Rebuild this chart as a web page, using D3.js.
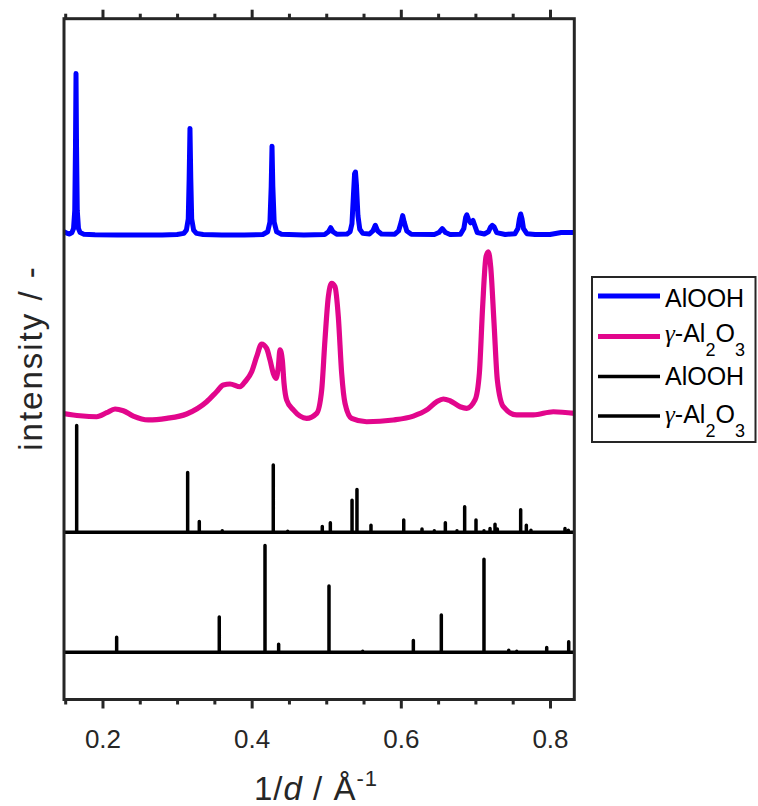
<!DOCTYPE html>
<html>
<head>
<meta charset="utf-8">
<script src="https://cdn.jsdelivr.net/npm/d3@7"></script>
<style>
  body { margin: 0; background: #fff; }
  text { font-family: "Liberation Sans", Arial, sans-serif; }
</style>
</head>
<body>
<svg id="chart" width="758" height="806"></svg>
<script>
// x range of the diffractograms, 1/d in Å^-1
const xDomain = [0.1484, 0.8326];
const xMajorTicks = [0.2, 0.4, 0.6, 0.8];
const xMinorTicks = [0.15, 0.25, 0.3, 0.35, 0.45, 0.5, 0.55, 0.65, 0.7, 0.75];

// Measured AlOOH pattern: [1/d, relative intensity %]
const aloohMeasured = [
  [0.1484, 2.0], [0.152, 1.2], [0.156, 0.6], [0.159, 1.5], [0.1612, 4], [0.1628, 15],
  [0.1638, 55], [0.1645, 100], [0.1652, 55], [0.1662, 15], [0.1678, 4], [0.1700, 1.5],
  [0.175, 0.5], [0.19, 0.2], [0.22, 0], [0.25, 0], [0.28, 0], [0.30, 0.3],
  [0.309, 1], [0.3125, 3], [0.3150, 10], [0.3162, 35], [0.3173, 66], [0.3184, 35],
  [0.3196, 10], [0.3222, 3], [0.326, 1], [0.335, 0.3], [0.36, 0], [0.39, 0],
  [0.415, 0.3], [0.4215, 2], [0.4245, 8], [0.4262, 30], [0.4273, 55], [0.4284, 30],
  [0.4302, 8], [0.4335, 2], [0.44, 0.5], [0.47, 0], [0.498, 0.3], [0.503, 2],
  [0.506, 4.5], [0.509, 2], [0.514, 0.5], [0.528, 0.6], [0.532, 2], [0.5345, 7],
  [0.5365, 25], [0.5380, 38], [0.5392, 39], [0.5405, 31], [0.5425, 12], [0.5450, 3.5],
  [0.549, 1], [0.558, 0.6], [0.5625, 2.5], [0.5658, 6], [0.569, 2.5], [0.574, 0.6],
  [0.592, 0.5], [0.597, 2.5], [0.6005, 8], [0.6025, 12], [0.6045, 8], [0.608, 2.5],
  [0.614, 0.5], [0.645, 0.3], [0.651, 1.5], [0.6556, 4], [0.660, 1.5], [0.666, 0.3],
  [0.680, 0.5], [0.6845, 4], [0.6870, 11], [0.6885, 12.5], [0.6905, 10], [0.6935, 7.5],
  [0.6968, 9], [0.6990, 6], [0.7025, 1.5], [0.712, 0.6], [0.7175, 2], [0.7205, 5],
  [0.7227, 6], [0.7252, 5], [0.7285, 1.5], [0.74, 0.3], [0.753, 0.8], [0.757, 4],
  [0.7590, 10], [0.7607, 13], [0.7625, 10], [0.7645, 4], [0.769, 0.8], [0.78, 0.3],
  [0.80, 0.3], [0.815, 1.5], [0.8326, 1.5]
];

// Measured γ-Al2O3 pattern: [1/d, relative intensity %]
const gammaMeasured = [
  [0.1466, -0.2], [0.1698, -1.7], [0.1922, -2.3], [0.2056, 0.2], [0.2168, 2.5], [0.2279, 1.4],
  [0.2413, -1.9], [0.2615, -4.3], [0.2860, -3.3], [0.3128, -0.6], [0.3397, 7.0], [0.3530, 13.2],
  [0.3620, 17.4], [0.3710, 18.0], [0.3844, 16.3], [0.3911, 19.4], [0.4000, 25.6], [0.4067, 34.9],
  [0.4134, 42.8], [0.4201, 40.1], [0.4246, 32.9], [0.4290, 24.6], [0.4326, 21.5], [0.4358, 28.7],
  [0.4380, 39.1], [0.4411, 32.9], [0.4434, 18.4], [0.4469, 8.1], [0.4559, 1.9], [0.4737, -3.3],
  [0.4872, -0.2], [0.4939, 14.3], [0.4983, 45.3], [0.5028, 72.1], [0.5073, 80.4], [0.5117, 78.3],
  [0.5162, 59.7], [0.5207, 24.6], [0.5252, 6.0], [0.5341, -3.3], [0.5542, -5.4], [0.5900, -4.3],
  [0.6168, -1.9], [0.6347, 1.9], [0.6481, 7.0], [0.6570, 8.7], [0.6659, 7.6], [0.6794, 3.9],
  [0.6883, 2.9], [0.6995, 8.1], [0.7053, 24.6], [0.7097, 65.9], [0.7142, 96.9], [0.7173, 100],
  [0.7205, 90.7], [0.7250, 55.6], [0.7294, 20.5], [0.7375, 3.9], [0.7553, -1.2], [0.7777, -1.2],
  [0.8045, 0.8], [0.8336, -0.2]
];

// Reference line positions and relative intensities, AlOOH (boehmite)
const aloohRefPos = [0.1654, 0.3142, 0.3298, 0.3606, 0.4290, 0.4483, 0.4947, 0.5055, 0.5346,
  0.5412, 0.5600, 0.6039, 0.6284, 0.6449, 0.6597, 0.6753, 0.6856, 0.7008, 0.7115, 0.7196,
  0.7263, 0.7294, 0.7607, 0.7683, 0.7745, 0.8201, 0.8246];
const aloohRefInt = [100, 56, 10, 1.5, 63, 1, 5.5, 9, 30, 40, 6.5, 11.5, 3, 1.5, 9, 1.5, 24,
  11.5, 1.5, 3.5, 7.5, 3, 21, 6.5, 2, 3.5, 2];

// Reference line positions and relative intensities, γ-Al2O3
const gammaRefPos = [0.2190, 0.3566, 0.4179, 0.4362, 0.5037, 0.5489, 0.6168, 0.6543, 0.7115,
  0.7447, 0.7554, 0.7956, 0.8251];
const gammaRefInt = [14, 33, 100, 7.5, 62, 1, 11, 35, 87, 2, 1, 4.5, 10];

const colors = { blue: "#0000ff", pink: "#e2068c", black: "#000000", axis: "#262626" };

// Stack offsets (base) and heights (span) for each trace, in y-scale units
const stack = {
  aloohMeasured: { base: 68.23, span: 23.72 },
  gammaMeasured: { base: 42.08, span: 23.69 },
  aloohRef: { base: 24.56, span: 15.7 },
  gammaRef: { base: 6.93, span: 15.7 }
};

const svg = d3.select("#chart");
const plot = { left: 64, right: 574.3, top: 18.7, bottom: 699.5 };

svg.append("rect").attr("width", 758).attr("height", 806).attr("fill", "#fff");

const x = d3.scaleLinear().domain(xDomain).range([plot.left, plot.right]);
const y = d3.scaleLinear().domain([0, 100]).range([plot.bottom, plot.top]);

svg.append("defs").append("clipPath").attr("id", "plotClip")
  .append("rect")
  .attr("x", plot.left).attr("y", plot.top)
  .attr("width", plot.right - plot.left).attr("height", plot.bottom - plot.top);

const g = svg.append("g").attr("clip-path", "url(#plotClip)");

// Reference patterns drawn as one polyline: baseline with vertical sticks
function stickPoints(pos, inten) {
  const pts = [[xDomain[0], 0]];
  pos.forEach((p, i) => { pts.push([p, 0], [p, inten[i]], [p, 0]); });
  pts.push([xDomain[1], 0]);
  return pts;
}

function lineFor(s) {
  return d3.line()
    .x(d => x(d[0]))
    .y(d => y(s.base + d[1] / 100 * s.span));
}

g.append("path")
  .attr("d", lineFor(stack.gammaRef)(stickPoints(gammaRefPos, gammaRefInt)))
  .attr("fill", "none").attr("stroke", colors.black).attr("stroke-width", 3.5)
  .attr("stroke-linejoin", "round").attr("stroke-linecap", "round");

g.append("path")
  .attr("d", lineFor(stack.aloohRef)(stickPoints(aloohRefPos, aloohRefInt)))
  .attr("fill", "none").attr("stroke", colors.black).attr("stroke-width", 3.5)
  .attr("stroke-linejoin", "round").attr("stroke-linecap", "round");

g.append("path")
  .attr("d", lineFor(stack.gammaMeasured).curve(d3.curveMonotoneX)(gammaMeasured))
  .attr("fill", "none").attr("stroke", colors.pink).attr("stroke-width", 5.2)
  .attr("stroke-linejoin", "round").attr("stroke-linecap", "round");

g.append("path")
  .attr("d", lineFor(stack.aloohMeasured)(aloohMeasured))
  .attr("fill", "none").attr("stroke", colors.blue).attr("stroke-width", 5)
  .attr("stroke-linejoin", "round").attr("stroke-linecap", "round");

// Axes: major and minor ticks, outward on bottom and top
function styleAxis(sel) {
  sel.select(".domain").remove();
  sel.selectAll(".tick line").attr("stroke", colors.axis).attr("stroke-width", 3);
  sel.selectAll(".tick text").attr("fill", colors.axis)
    .style("font-family", '"Liberation Sans", Arial, sans-serif').style("font-size", "26px");
}

svg.append("g").attr("transform", `translate(0,${plot.bottom})`)
  .call(d3.axisBottom(x).tickValues(xMajorTicks).tickSize(9).tickPadding(21)
    .tickFormat(d3.format(".1f")))
  .call(styleAxis);
svg.append("g").attr("transform", `translate(0,${plot.bottom})`)
  .call(d3.axisBottom(x).tickValues(xMinorTicks).tickSize(5).tickFormat(""))
  .call(styleAxis);
svg.append("g").attr("transform", `translate(0,${plot.top})`)
  .call(d3.axisTop(x).tickValues(xMajorTicks).tickSize(9).tickFormat(""))
  .call(styleAxis);
svg.append("g").attr("transform", `translate(0,${plot.top})`)
  .call(d3.axisTop(x).tickValues(xMinorTicks).tickSize(5).tickFormat(""))
  .call(styleAxis);

// Frame
svg.append("rect")
  .attr("x", plot.left).attr("y", plot.top)
  .attr("width", plot.right - plot.left).attr("height", plot.bottom - plot.top)
  .attr("fill", "none").attr("stroke", colors.axis).attr("stroke-width", 3);

// Axis titles
const xt = svg.append("text")
  .attr("x", 316).attr("y", 800).attr("text-anchor", "middle")
  .attr("fill", colors.axis).style("font-size", "33px").style("letter-spacing", "1px");
xt.append("tspan").text("1/");
xt.append("tspan").style("font-style", "italic").text("d");
xt.append("tspan").text(" / Å");
xt.append("tspan").attr("dy", -14).style("font-size", "22px").text("-1");

svg.append("text")
  .attr("transform", "translate(42,358) rotate(-90)")
  .attr("text-anchor", "middle").attr("fill", colors.axis)
  .style("font-size", "33px").style("letter-spacing", "2px").text("intensity / -");

// Legend
const legendRows = [
  { label: "AlOOH", color: colors.blue, width: 5, sub: false, lineY: 296, textY: 306.5 },
  { label: "γ-Al2O3", color: colors.pink, width: 5, sub: true, lineY: 336.5, textY: 342 },
  { label: "AlOOH", color: colors.black, width: 3.5, sub: false, lineY: 376.5, textY: 385 },
  { label: "γ-Al2O3", color: colors.black, width: 3.5, sub: true, lineY: 416, textY: 423 }
];

const lg = svg.append("g");
lg.append("rect").attr("x", 592).attr("y", 277).attr("width", 163.5).attr("height", 165)
  .attr("fill", "#fff").attr("stroke", colors.axis).attr("stroke-width", 2);

legendRows.forEach(r => {
  lg.append("line").attr("x1", 598).attr("x2", 660).attr("y1", r.lineY).attr("y2", r.lineY)
    .attr("stroke", r.color).attr("stroke-width", r.width);
  const t = lg.append("text").attr("x", 665).attr("y", r.textY).attr("fill", "#000")
    .style("font-size", "25px");
  if (!r.sub) {
    t.text(r.label);
  } else {
    t.append("tspan").style("font-family", '"Liberation Serif", "Times New Roman", serif')
      .style("font-style", "italic").text("γ");
    t.append("tspan").text("-Al");
    t.append("tspan").attr("dy", 14).style("font-size", "18px").text("2");
    t.append("tspan").attr("dy", -14).text("O");
    t.append("tspan").attr("dy", 14).style("font-size", "18px").text("3");
  }
});
</script>
</body>
</html>
